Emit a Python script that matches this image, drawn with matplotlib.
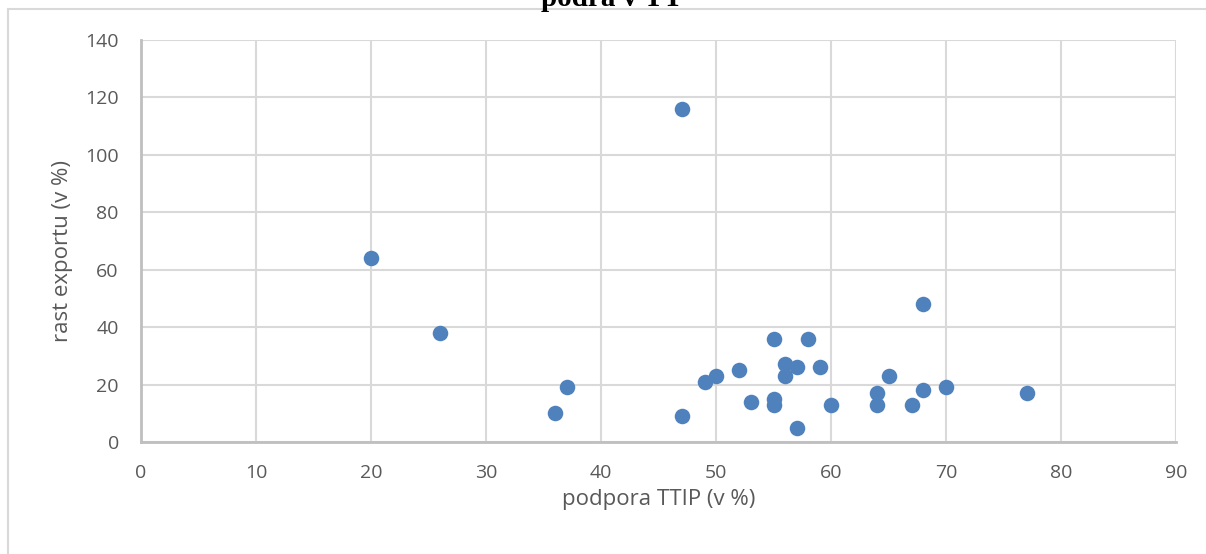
import matplotlib
matplotlib.use('Agg')
import matplotlib.pyplot as plt
from matplotlib.patches import Rectangle

# podpora TTIP (v %) vs rast exportu (v %)
podpora = [20, 26, 36, 37, 47, 47, 49, 50, 52, 53, 55, 55, 55, 56, 56,
           57, 57, 58, 59, 60, 64, 64, 65, 67, 68, 68, 70, 77]
rast = [64, 38, 10, 19, 116, 9, 21, 23, 25, 14, 36, 15, 13, 27, 23,
        26, 5, 36, 26, 13, 17, 13, 23, 13, 48, 18, 19, 17]
xticks = list(range(0, 100, 10))
yticks = list(range(0, 160, 20))

plt.rcParams['font.family'] = ['Open Sans', 'DejaVu Sans']

fig = plt.figure(figsize=(12.06, 5.54), dpi=100)
W, H = 1206, 554

# chart frame (light border)
fig.patches.append(Rectangle((8 / W, -0.1), 1.2, 1 - 9 / H + 0.1, transform=fig.transFigure,
                             fill=False, edgecolor='#d9d9d9', linewidth=1.5))

# title, cut off at the top like in the source
fig.text(612 / W, 1 - 6 / H, 'podra v TT', ha='center', va='baseline',
         fontsize=21, fontweight='bold', family='Liberation Serif', color='black')

ax = fig.add_axes([141 / W, 1 - 442 / H, (1176 - 141) / W, (442 - 40) / H])
ax.scatter(podpora, rast, s=125, color='#4F81BD', zorder=3, linewidths=0)

ax.set_xlim(0, 90)
ax.set_ylim(0, 140)
ax.set_xticks(xticks)
ax.set_yticks(yticks)
ax.grid(True, color='#d9d9d9', linewidth=1.5)
ax.set_axisbelow(True)
for s in ['top', 'right']:
    ax.spines[s].set_visible(False)
ax.spines['left'].set_color('#bfbfbf')
ax.spines['bottom'].set_color('#bfbfbf')
ax.spines['left'].set_linewidth(2)
ax.spines['bottom'].set_linewidth(2)
ax.tick_params(length=0, labelsize=14, colors='#595959')
ax.tick_params(axis='x', pad=16)
ax.tick_params(axis='y', pad=16)

ax.set_xlabel('podpora TTIP (v %)', fontsize=16, color='#595959')
ax.set_ylabel('rast exportu (v %)', fontsize=16, color='#595959')
ax.xaxis.set_label_coords(0.5, -0.118)
ax.yaxis.set_label_coords(-0.066, 0.475)

fig.savefig('out.png', dpi=100)
